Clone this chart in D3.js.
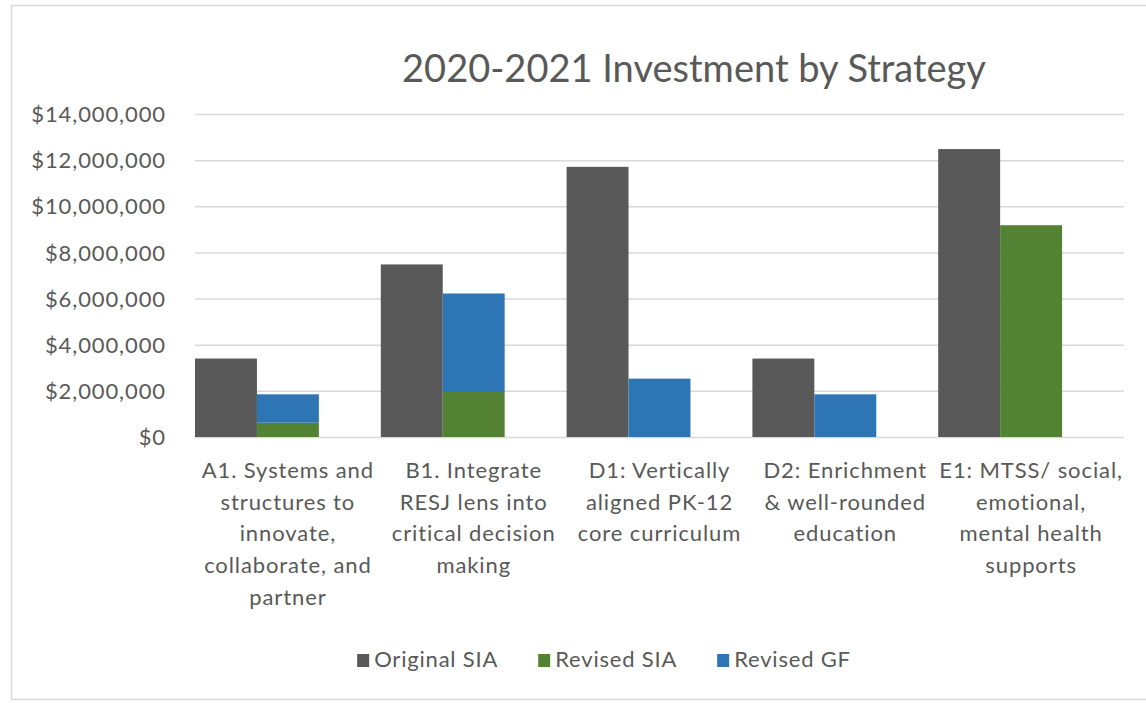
<!DOCTYPE html>
<html>
<head>
<meta charset="utf-8">
<script src="https://cdn.jsdelivr.net/npm/d3@7"></script>
<style>
  html, body { margin: 0; padding: 0; background: #fff; }
  svg { display: block; font-family: Lato, "Open Sans", sans-serif; }
</style>
</head>
<body>
<svg id="chart" width="1146" height="703"></svg>
<script>
// Strategy categories (wrapped label lines per category)
const categories = ["A1", "B1", "D1", "D2", "E1"];
const categoryLines = [
  ["A1. Systems and", "structures to", "innovate,", "collaborate, and", "partner"],
  ["B1. Integrate", "RESJ lens into", "critical decision", "making"],
  ["D1: Vertically", "aligned PK-12", "core curriculum"],
  ["D2: Enrichment", "& well-rounded", "education"],
  ["E1: MTSS/ social,", "emotional,", "mental health", "supports"]
];

// Dollar amounts per strategy
const originalSIA = [3400000, 7480000, 11710000, 3400000, 12480000];
const revisedSIA  = [620000, 1950000, 0, 0, 9180000];
const revisedGF   = [1230000, 4270000, 2530000, 1850000, 0];

const seriesNames = ["Original SIA", "Revised SIA", "Revised GF"];
const yTicks = [0, 2000000, 4000000, 6000000, 8000000, 10000000, 12000000, 14000000];

const colors = { "Original SIA": "#595959", "Revised SIA": "#548235", "Revised GF": "#2e75b6" };
const textColor = "#595959";

const svg = d3.select("#chart");

// Outer chart frame
svg.append("rect")
  .attr("x", 11.5).attr("y", 5.5)
  .attr("width", 1150).attr("height", 694)
  .attr("fill", "#fff").attr("stroke", "#d9d9d9").attr("stroke-width", 1.5);

const plot = { left: 195, right: 1124, top: 114, bottom: 437 };

const x = d3.scaleBand().domain(categories).range([plot.left, plot.right]).paddingInner(0).paddingOuter(0);
// three slots per category: original, revised (stacked), empty
const slot = d3.scaleBand().domain([0, 1, 2]).range([0, x.bandwidth()]);
const y = d3.scaleLinear().domain([0, 14000000]).range([plot.bottom, plot.top]);

// Gridlines
const grid = svg.append("g")
  .attr("transform", `translate(${plot.left},0)`)
  .call(d3.axisLeft(y).tickValues(yTicks).tickSize(-(plot.right - plot.left)).tickFormat(""));
grid.select(".domain").remove();
grid.selectAll(".tick line").attr("stroke", "#d9d9d9").attr("stroke-width", 1.5);

// Y axis labels
const yAxis = svg.append("g")
  .attr("transform", `translate(${plot.left - 29},0)`)
  .call(d3.axisLeft(y).tickValues(yTicks).tickSize(0).tickFormat(d3.format("$,")));
yAxis.select(".domain").remove();
yAxis.selectAll(".tick text")
  .attr("fill", textColor)
  .attr("font-size", 22)
  .attr("letter-spacing", "0.9px")
  .attr("x", 0)
  .attr("dy", "0.35em")
  .attr("font-family", "Lato, sans-serif");

// Original SIA bars
svg.append("g").selectAll("rect")
  .data(categories)
  .join("rect")
  .attr("x", d => x(d) + slot(0))
  .attr("width", slot.bandwidth())
  .attr("y", (d, i) => y(originalSIA[i]))
  .attr("height", (d, i) => y(0) - y(originalSIA[i]))
  .attr("fill", colors["Original SIA"]);

// Revised bars: SIA stacked beneath GF
const stackRows = categories.map((c, i) => ({ cat: c, "Revised SIA": revisedSIA[i], "Revised GF": revisedGF[i] }));
const stacked = d3.stack().keys(["Revised SIA", "Revised GF"])(stackRows);

svg.append("g").selectAll("g")
  .data(stacked)
  .join("g")
  .attr("fill", s => colors[s.key])
  .selectAll("rect")
  .data(s => s)
  .join("rect")
  .attr("x", d => x(d.data.cat) + slot(1))
  .attr("width", slot.bandwidth())
  .attr("y", d => y(d[1]))
  .attr("height", d => y(d[0]) - y(d[1]));

// Category labels
const catG = svg.append("g");
categories.forEach((c, i) => {
  const t = catG.append("text")
    .attr("x", x(c) + x.bandwidth() / 2)
    .attr("y", 478)
    .attr("text-anchor", "middle")
    .attr("fill", textColor)
    .attr("letter-spacing", "0.9px")
    .attr("font-size", 22);
  categoryLines[i].forEach((line, j) => {
    t.append("tspan")
      .attr("x", x(c) + x.bandwidth() / 2)
      .attr("dy", j === 0 ? 0 : 31.7)
      .text(line);
  });
});

// Title
svg.append("text")
  .attr("x", 694)
  .attr("y", 82)
  .attr("text-anchor", "middle")
  .attr("fill", textColor)
  .attr("font-size", 38)
  .text("2020-2021 Investment by Strategy");

// Legend
const legend = svg.append("g");
const items = [];
let cx = 0;
seriesNames.forEach((name, i) => {
  const g = legend.append("g");
  g.append("rect").attr("x", 0).attr("y", -13).attr("width", 12).attr("height", 13).attr("fill", colors[name]);
  const tx = g.append("text").attr("x", 17).attr("y", 0).attr("fill", textColor)
    .attr("font-size", 22).attr("letter-spacing", "0.8px").text(name);
  const w = 17 + tx.node().getComputedTextLength();
  items.push({ g, w });
});
const gap = 40;
const total = d3.sum(items, d => d.w) + gap * (items.length - 1);
cx = 604 - total / 2;
items.forEach(it => {
  it.g.attr("transform", `translate(${cx},667)`);
  cx += it.w + gap;
});
</script>
</body>
</html>
